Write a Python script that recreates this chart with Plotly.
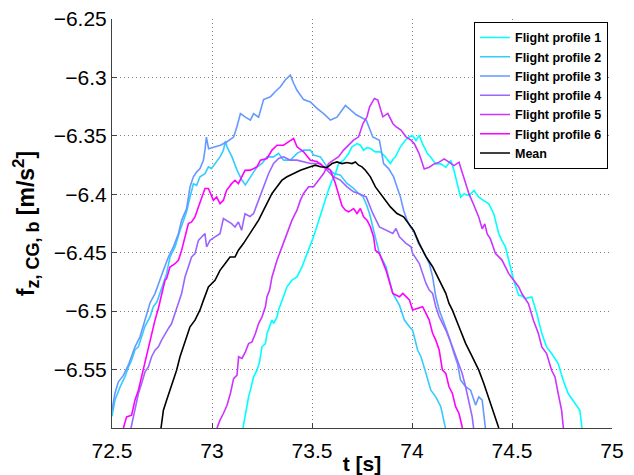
import plotly.graph_objects as go

# ---- Flight profile 1 ----
t1 = [73.155, 73.167, 73.175, 73.183, 73.192, 73.208, 73.225, 73.237, 73.25, 73.267, 73.275, 73.283,
      73.3, 73.308, 73.325, 73.333, 73.35, 73.367, 73.375, 73.4, 73.425, 73.45, 73.475, 73.49, 73.505,
      73.52, 73.535, 73.55, 73.567, 73.583, 73.6, 73.617, 73.633, 73.658, 73.683, 73.7, 73.725, 73.742,
      73.758, 73.775, 73.792, 73.817, 73.842, 73.867, 73.892, 73.905, 73.917, 73.942, 73.967, 73.985,
      74.003, 74.02, 74.036, 74.053, 74.078, 74.094, 74.119, 74.144, 74.169, 74.194, 74.21, 74.227,
      74.243, 74.26, 74.285, 74.31, 74.334, 74.359, 74.384, 74.409, 74.434, 74.45, 74.467, 74.492,
      74.508, 74.533, 74.549, 74.566, 74.599, 74.624, 74.649, 74.673, 74.698, 74.731, 74.756, 74.781,
      74.814, 74.839, 74.85]
f1 = [-6.600, -6.5876, -6.579, -6.5733, -6.5676, -6.5562, -6.5505, -6.544, -6.5305, -6.5277, -6.5191,
      -6.5148, -6.5077, -6.5106, -6.5049, -6.4991, -6.4906, -6.482, -6.4792, -6.4735, -6.4707, -6.4621,
      -6.4507, -6.4455, -6.4375, -6.430, -6.4215, -6.415, -6.4051, -6.396, -6.388, -6.3823, -6.3737,
      -6.3708, -6.3651, -6.3594, -6.3566, -6.358, -6.3623, -6.360, -6.3608, -6.3637, -6.3637, -6.368,
      -6.3737, -6.370, -6.368, -6.3594, -6.3537, -6.3509, -6.3497, -6.354, -6.3497, -6.3568, -6.3654,
      -6.3683, -6.374, -6.374, -6.3768, -6.3711, -6.3797, -6.3911, -6.4025, -6.3997, -6.4011, -6.3968,
      -6.4025, -6.4054, -6.4082, -6.4168, -6.4339, -6.4396, -6.4449, -6.462, -6.4734, -6.4862, -6.487,
      -6.4892, -6.4878, -6.502, -6.5192, -6.5306, -6.5363, -6.5449, -6.5591, -6.5705, -6.5791, -6.5848,
      -6.600]

# ---- Flight profile 2 ----
t2 = [72.5, 72.515, 72.54, 72.565, 72.582, 72.598, 72.615, 72.632, 72.648, 72.665, 72.69, 72.707,
      72.725, 72.74, 72.757, 72.773, 72.79, 72.815, 72.84, 72.857, 72.873, 72.89, 72.907, 72.923, 72.94,
      72.965, 72.982, 72.998, 73.015, 73.04, 73.057, 73.067, 73.075, 73.1, 73.125, 73.15, 73.167, 73.192,
      73.225, 73.25, 73.275, 73.308, 73.333, 73.358, 73.392, 73.425, 73.458, 73.492, 73.508, 73.542,
      73.575, 73.608, 73.642, 73.675, 73.708, 73.733, 73.755, 73.775, 73.79, 73.804, 73.82, 73.837,
      73.87, 73.904, 73.937, 73.962, 73.987, 74.003, 74.028, 74.045, 74.07, 74.094, 74.119, 74.144,
      74.167]
f2 = [-6.590, -6.576, -6.565, -6.556, -6.548, -6.542, -6.533, -6.5305, -6.522, -6.513, -6.505, -6.496,
      -6.492, -6.484, -6.4765, -6.468, -6.4537, -6.445, -6.431, -6.422, -6.415, -6.4023, -6.391, -6.3923,
      -6.385, -6.3823, -6.3766, -6.378, -6.3737, -6.368, -6.3623, -6.3545, -6.3594, -6.368, -6.3793,
      -6.388, -6.392, -6.385, -6.3765, -6.3736, -6.368, -6.368, -6.365, -6.3708, -6.3708, -6.365,
      -6.3622, -6.3622, -6.3665, -6.368, -6.3765, -6.382, -6.3836, -6.3907, -6.395, -6.3993, -6.402,
      -6.410, -6.418, -6.428, -6.440, -6.4507, -6.462, -6.4849, -6.4948, -6.5076, -6.5134, -6.5162,
      -6.5333, -6.539, -6.5533, -6.5676, -6.5733, -6.5818, -6.600]

# ---- Flight profile 3 ----
t3 = [72.5, 72.515, 72.532, 72.557, 72.582, 72.598, 72.615, 72.64, 72.657, 72.673, 72.69, 72.715,
      72.732, 72.757, 72.782, 72.807, 72.832, 72.848, 72.873, 72.89, 72.907, 72.923, 72.94, 72.957,
      72.965, 72.972, 72.983, 73.008, 73.042, 73.075, 73.108, 73.125, 73.142, 73.167, 73.192, 73.208,
      73.233, 73.258, 73.292, 73.317, 73.342, 73.367, 73.392, 73.408, 73.425, 73.458, 73.492, 73.525,
      73.558, 73.592, 73.625, 73.667, 73.692, 73.721, 73.771, 73.804, 73.837, 73.858, 73.883, 73.908,
      73.925, 73.942, 73.958, 73.975, 73.992, 74.01, 74.033, 74.053, 74.086, 74.103, 74.119, 74.136,
      74.161, 74.185, 74.21, 74.227, 74.243, 74.268, 74.293, 74.318, 74.334, 74.351, 74.367]
f3 = [-6.585, -6.570, -6.5605, -6.555, -6.546, -6.538, -6.5305, -6.522, -6.512, -6.503, -6.493, -6.485,
      -6.4765, -6.465, -6.4537, -6.445, -6.4337, -6.4223, -6.4123, -6.3937, -6.385, -6.381, -6.378,
      -6.371, -6.362, -6.351, -6.361, -6.360, -6.358, -6.355, -6.351, -6.342, -6.331, -6.334, -6.3365,
      -6.331, -6.334, -6.319, -6.3166, -6.312, -6.308, -6.302, -6.298, -6.305, -6.311, -6.319, -6.321,
      -6.3265, -6.331, -6.3365, -6.334, -6.324, -6.328, -6.332, -6.3365, -6.351, -6.3537, -6.3737,
      -6.378, -6.3851, -6.3937, -6.4022, -6.4136, -6.4222, -6.4279, -6.432, -6.4422, -6.4477, -6.4591,
      -6.4705, -6.4877, -6.499, -6.5105, -6.5219, -6.5362, -6.5447, -6.559, -6.5647, -6.5676, -6.5804,
      -6.5733, -6.5761, -6.600]

# ---- Flight profile 4 ----
t4 = [72.595, 72.607, 72.615, 72.632, 72.648, 72.665, 72.682, 72.698, 72.715, 72.732, 72.748, 72.765,
      72.782, 72.798, 72.815, 72.832, 72.848, 72.865, 72.882, 72.898, 72.915, 72.932, 72.948, 72.965,
      72.973, 72.99, 73.015, 73.04, 73.057, 73.073, 73.098, 73.115, 73.132, 73.148, 73.165, 73.19,
      73.208, 73.233, 73.258, 73.283, 73.308, 73.333, 73.358, 73.392, 73.425, 73.458, 73.492, 73.542,
      73.575, 73.608, 73.642, 73.675, 73.708, 73.733, 73.771, 73.804, 73.837, 73.87, 73.904, 73.92,
      73.937, 73.97, 73.995, 74.003, 74.036, 74.07, 74.086, 74.103, 74.119, 74.136, 74.169, 74.202,
      74.235, 74.251, 74.268, 74.285, 74.301, 74.308]
f4 = [-6.600, -6.5905, -6.5848, -6.5705, -6.5619, -6.552, -6.5477, -6.539, -6.5334, -6.5305, -6.5248,
      -6.5191, -6.5148, -6.5106, -6.502, -6.4936, -6.485, -6.4708, -6.4622, -6.4537, -6.4508, -6.4394,
      -6.4365, -6.4337, -6.4451, -6.4394, -6.4365, -6.4337, -6.4208, -6.4223, -6.4251, -6.428, -6.4237,
      -6.4308, -6.4166, -6.419, -6.4164, -6.405, -6.3936, -6.3822, -6.3736, -6.3694, -6.3679, -6.3708,
      -6.3708, -6.3722, -6.3736, -6.3736, -6.3793, -6.385, -6.3879, -6.3936, -6.3979, -6.3993, -6.4022,
      -6.4164, -6.4279, -6.4307, -6.4336, -6.4293, -6.4363, -6.442, -6.4449, -6.4506, -6.4591, -6.4763,
      -6.482, -6.4848, -6.4962, -6.5048, -6.5162, -6.5305, -6.5447, -6.5533, -6.5647, -6.579, -6.5904,
      -6.600]

# ---- Flight profile 5 ----
t5 = [73.025, 73.04, 73.057, 73.075, 73.092, 73.108, 73.125, 73.133, 73.15, 73.167, 73.183, 73.2,
      73.217, 73.233, 73.25, 73.267, 73.275, 73.288, 73.3, 73.325, 73.35, 73.375, 73.4, 73.425, 73.442,
      73.458, 73.483, 73.508, 73.533, 73.558, 73.583, 73.608, 73.633, 73.658, 73.683, 73.708, 73.733,
      73.755, 73.775, 73.788, 73.812, 73.829, 73.854, 73.879, 73.904, 73.92, 73.945, 73.97, 73.995,
      74.012, 74.036, 74.061, 74.086, 74.111, 74.136, 74.161, 74.185, 74.21, 74.235, 74.26, 74.285,
      74.31, 74.334, 74.351, 74.364, 74.376, 74.392, 74.417, 74.45, 74.483, 74.508, 74.533, 74.549,
      74.582, 74.607, 74.632, 74.649, 74.673, 74.698, 74.715, 74.731, 74.748, 74.757]
f5 = [-6.600, -6.5933, -6.5876, -6.5805, -6.5705, -6.5577, -6.5548, -6.5391, -6.5405, -6.5348, -6.5277,
      -6.5263, -6.5191, -6.5106, -6.5049, -6.4963, -6.4877, -6.482, -6.4707, -6.4564, -6.445, -6.4336,
      -6.4221, -6.4136, -6.405, -6.3993, -6.3936, -6.3936, -6.3879, -6.3822, -6.3736, -6.3708, -6.3679,
      -6.3622, -6.358, -6.3537, -6.3508, -6.3394, -6.3337, -6.3251, -6.318, -6.3194, -6.3337, -6.3308,
      -6.3394, -6.3422, -6.3451, -6.3508, -6.3537, -6.3568, -6.3654, -6.3783, -6.3768, -6.374, -6.3725,
      -6.3697, -6.3725, -6.3754, -6.3725, -6.3854, -6.3997, -6.4096, -6.4196, -6.4296, -6.4253, -6.4339,
      -6.4382, -6.4506, -6.4563, -6.4677, -6.4734, -6.4791, -6.4849, -6.4935, -6.5078, -6.5192, -6.5306,
      -6.5363, -6.5506, -6.5563, -6.5705, -6.5848, -6.600]

# ---- Flight profile 6 ----
t6 = [72.557, 72.573, 72.598, 72.615, 72.632, 72.648, 72.665, 72.682, 72.698, 72.715, 72.732, 72.748,
      72.765, 72.773, 72.79, 72.815, 72.832, 72.848, 72.865, 72.882, 72.898, 72.915, 72.932, 72.948,
      72.965, 72.982, 73.007, 73.023, 73.04, 73.057, 73.073, 73.098, 73.115, 73.132, 73.148, 73.165,
      73.192, 73.225, 73.242, 73.275, 73.3, 73.325, 73.358, 73.383, 73.408, 73.425, 73.458, 73.492,
      73.525, 73.558, 73.592, 73.617, 73.633, 73.65, 73.667, 73.683, 73.708, 73.725, 73.742, 73.758,
      73.775, 73.792, 73.808, 73.817, 73.837, 73.87, 73.904, 73.937, 73.954, 73.97, 73.987, 74.003,
      74.028, 74.053, 74.07, 74.086, 74.103, 74.119, 74.136, 74.152, 74.169, 74.185, 74.202, 74.218,
      74.235, 74.252]
f6 = [-6.600, -6.5905, -6.589, -6.576, -6.5676, -6.556, -6.542, -6.5305, -6.519, -6.5077, -6.4975,
      -6.485, -6.4736, -6.4722, -6.4622, -6.4594, -6.4565, -6.448, -6.4365, -6.4251, -6.4237, -6.4194,
      -6.4108, -6.4023, -6.3951, -6.3951, -6.4051, -6.4023, -6.408, -6.4051, -6.3966, -6.3909, -6.388,
      -6.3909, -6.3852, -6.3795, -6.3793, -6.3765, -6.3708, -6.3694, -6.3622, -6.358, -6.358, -6.355,
      -6.3522, -6.3594, -6.3636, -6.3708, -6.372, -6.3765, -6.3793, -6.3908, -6.3993, -6.410, -6.4136,
      -6.415, -6.4122, -6.4165, -6.4122, -6.4193, -6.4222, -6.4279, -6.4365, -6.4479, -6.4507, -6.4649,
      -6.4849, -6.4877, -6.4848, -6.4877, -6.4905, -6.499, -6.4977, -6.4962, -6.502, -6.5077, -6.519,
      -6.5248, -6.5333, -6.5505, -6.5533, -6.5647, -6.5704, -6.5818, -6.5876, -6.600]

# ---- Mean over all profiles ----
tm = [72.745, 72.757, 72.773, 72.79, 72.807, 72.823, 72.84, 72.857, 72.873, 72.89, 72.915, 72.94,
      72.957, 72.982, 73.015, 73.04, 73.065, 73.09, 73.115, 73.132, 73.157, 73.173, 73.19, 73.208,
      73.233, 73.258, 73.283, 73.3, 73.325, 73.35, 73.375, 73.392, 73.408, 73.442, 73.492, 73.517,
      73.542, 73.575, 73.6, 73.625, 73.65, 73.675, 73.7, 73.717, 73.733, 73.75, 73.767, 73.792, 73.817,
      73.842, 73.867, 73.892, 73.925, 73.958, 73.983, 74.008, 74.036, 74.07, 74.103, 74.136, 74.169,
      74.185, 74.202, 74.235, 74.268, 74.301, 74.334, 74.359, 74.376, 74.392, 74.417, 74.434]
fm = [-6.600, -6.5848, -6.5762, -6.5676, -6.5591, -6.5505, -6.5391, -6.5305, -6.522, -6.5134, -6.5077,
      -6.499, -6.4908, -6.4793, -6.4736, -6.4651, -6.4594, -6.4537, -6.4537, -6.4479, -6.4422, -6.438,
      -6.433, -6.4279, -6.4221, -6.4136, -6.405, -6.3993, -6.3936, -6.3879, -6.385, -6.3837, -6.3822,
      -6.3794, -6.3765, -6.3751, -6.3765, -6.3771, -6.3737, -6.3723, -6.3737, -6.3728, -6.3737, -6.3723,
      -6.3751, -6.3765, -6.3794, -6.3851, -6.3937, -6.3994, -6.4051, -6.4108, -6.4165, -6.4193, -6.4251,
      -6.4308, -6.442, -6.4534, -6.462, -6.4734, -6.4848, -6.4934, -6.4991, -6.5134, -6.5276, -6.539,
      -6.5505, -6.5619, -6.5704, -6.579, -6.5904, -6.600]

series_names = ["Flight profile 1", "Flight profile 2", "Flight profile 3",
                "Flight profile 4", "Flight profile 5", "Flight profile 6", "Mean"]
# "cool" colormap for the six profiles, black for the mean
series_colors = ["#00FFFF", "#33CCFF", "#6699FF", "#9966FF", "#CC33FF", "#FF00FF", "#000000"]

x_ticks = [72.5, 73.0, 73.5, 74.0, 74.5, 75.0]
x_tick_text = ["72.5", "73", "73.5", "74", "74.5", "75"]
y_ticks = [-6.55, -6.5, -6.45, -6.4, -6.35, -6.3, -6.25]
y_tick_text = ["\u22126.55", "\u22126.5", "\u22126.45", "\u22126.4", "\u22126.35", "\u22126.3", "\u22126.25"]

times = [t1, t2, t3, t4, t5, t6, tm]
values = [f1, f2, f3, f4, f5, f6, fm]

fig = go.Figure()
for t, f, name, col in zip(times, values, series_names, series_colors):
    fig.add_trace(go.Scatter(x=t, y=f, mode="lines", name=name,
                             line=dict(color=col, width=1.6)))

font_family = "Liberation Sans, Arial, Helvetica, sans-serif"
axis_common = dict(
    automargin=False,
    showline=True, linecolor="#404040", linewidth=1,
    ticks="inside", ticklen=5, tickwidth=1, tickcolor="#404040",
    showgrid=True, gridcolor="#808080", gridwidth=1, griddash="1px,3px",
    zeroline=False, tickfont=dict(family=font_family, size=21, color="black"),
)

y_title = ("<b>f<sub><span style='font-size:18px'>z, CG, b</span></sub>"
           " [m/s<sup><span style='font-size:17px'>2</span></sup>]</b>")

fig.update_layout(
    width=634, height=475,
    margin=dict(l=112, r=22, t=19, b=47, autoexpand=False),
    paper_bgcolor="white", plot_bgcolor="white",
    font=dict(family=font_family, color="black"),
    showlegend=True,
    legend=dict(
        x=0.992, y=0.993, xanchor="right", yanchor="top",
        bgcolor="white", bordercolor="black", borderwidth=1,
        font=dict(family=font_family, size=12.5, color="black", weight="bold"),
        tracegroupgap=0,
    ),
    xaxis=dict(
        range=[72.5, 75], tickvals=x_ticks, ticktext=x_tick_text, ticklabelstandoff=4,
        title=dict(text="<b>t [s]</b>", font=dict(family=font_family, size=21, color="black"),
                   standoff=2),
        **axis_common,
    ),
    yaxis=dict(
        range=[-6.6, -6.25], tickvals=y_ticks, ticktext=y_tick_text,
        title=dict(text=y_title,
                   font=dict(family=font_family, size=23, color="black"), standoff=12),
        **axis_common,
    ),
)

fig.write_html("out.html")
